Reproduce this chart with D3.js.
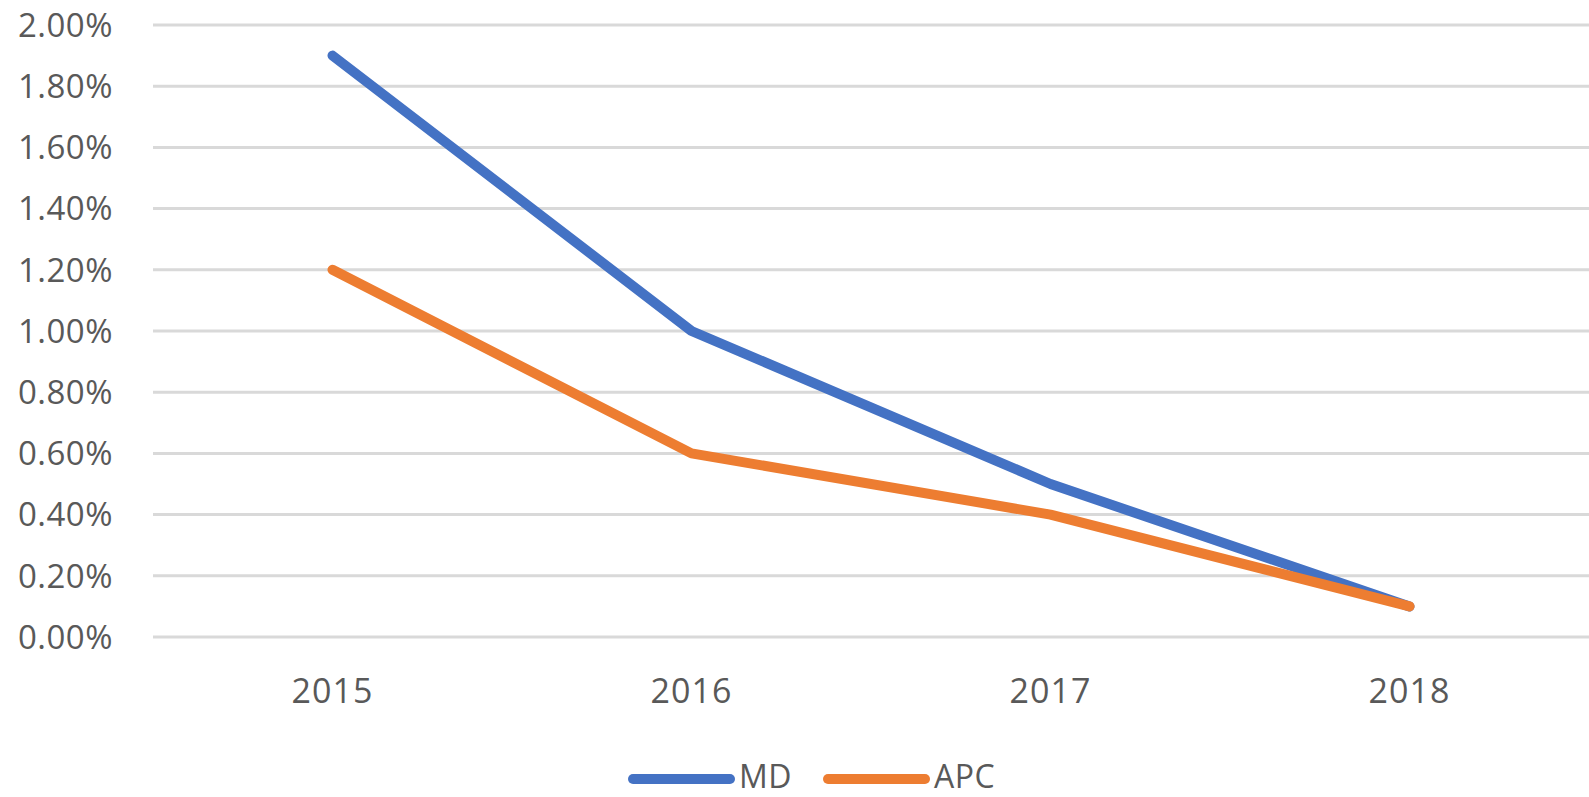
<!DOCTYPE html>
<html>
<head>
<meta charset="utf-8">
<script src="https://cdn.jsdelivr.net/npm/d3@7"></script>
<style>
  body { margin: 0; background: #fff; }
  svg { display: block; }
  text { font-family: 'Open Sans', sans-serif; fill: #595959; }
</style>
</head>
<body>
<div class="chart"></div>
<script>
const WIDTH = 1589;
const HEIGHT = 797;

const years = ['2015', '2016', '2017', '2018'];
const mdValues = [0.019, 0.010, 0.005, 0.001];
const apcValues = [0.012, 0.006, 0.004, 0.001];
const yTicks = [0, 0.002, 0.004, 0.006, 0.008, 0.010, 0.012, 0.014, 0.016, 0.018, 0.020];

const series = [
  { name: 'MD', values: mdValues, color: '#4472C4' },
  { name: 'APC', values: apcValues, color: '#ED7D31' },
];

const svg = d3.select('.chart')
  .append('svg')
  .attr('width', WIDTH)
  .attr('height', HEIGHT);

const x = d3.scaleBand().domain(years).range([153, WIDTH]);
const y = d3.scaleLinear().domain([0, 0.02]).range([637, 25]);

// gridlines
svg.append('g')
  .selectAll('line')
  .data(yTicks)
  .join('line')
  .attr('x1', 153)
  .attr('x2', WIDTH)
  .attr('y1', (d) => y(d))
  .attr('y2', (d) => y(d))
  .style('stroke', '#d9d9d9')
  .style('stroke-width', 3);

// y labels
svg.append('g')
  .selectAll('text')
  .data(yTicks)
  .join('text')
  .attr('x', 113)
  .attr('y', (d) => y(d))
  .attr('dy', '0.36em')
  .style('text-anchor', 'end')
  .style('font-size', '33px')
  .style('letter-spacing', '0.5px')
  .text((d) => d3.format('.2%')(d));

// x labels
svg.append('g')
  .selectAll('text')
  .data(years)
  .join('text')
  .attr('x', (d) => x(d) + x.bandwidth() / 2)
  .attr('y', 691)
  .attr('dy', '0.36em')
  .style('text-anchor', 'middle')
  .style('font-size', '34px')
  .style('letter-spacing', '1px')
  .text((d) => d);

// lines
const line = d3.line()
  .x((d, i) => x(years[i]) + x.bandwidth() / 2)
  .y((d) => y(d));

svg.append('g')
  .selectAll('path')
  .data(series)
  .join('path')
  .attr('d', (d) => line(d.values))
  .style('fill', 'none')
  .style('stroke', (d) => d.color)
  .style('stroke-width', 10)
  .style('stroke-linecap', 'round')
  .style('stroke-linejoin', 'round');

// legend
const legendX = [633, 828];
const legend = svg.append('g')
  .selectAll('g')
  .data(series)
  .join('g')
  .attr('transform', (d, i) => `translate(${legendX[i]}, 779)`);

legend.append('line')
  .attr('x1', 0)
  .attr('x2', 97)
  .style('stroke', (d) => d.color)
  .style('stroke-width', 10)
  .style('stroke-linecap', 'round');

legend.append('text')
  .attr('x', 106)
  .attr('y', 9)
  .style('font-size', '32px')
  .style('letter-spacing', '0.5px')
  .text((d) => d.name);
</script>
</body>
</html>
